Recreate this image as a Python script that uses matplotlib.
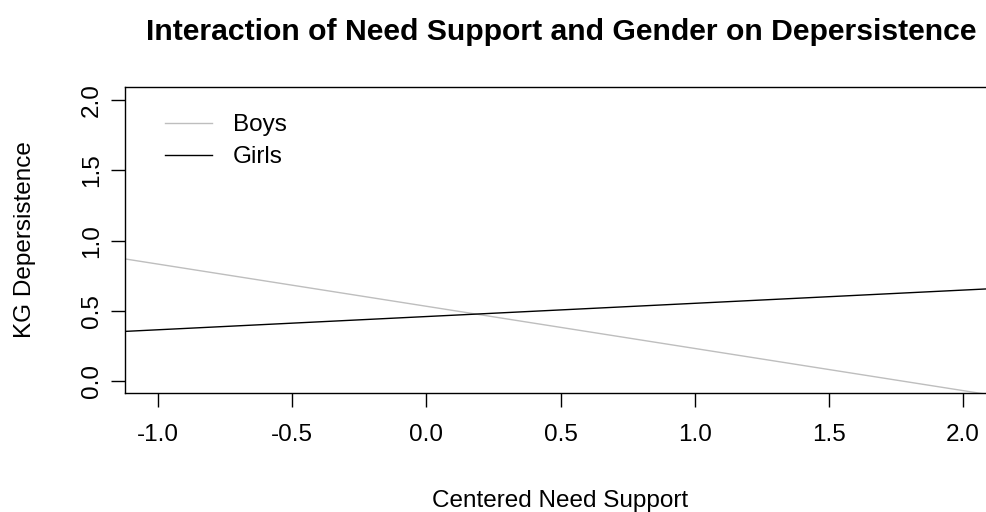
import matplotlib
matplotlib.use("Agg")
import matplotlib.pyplot as plt

# values (line ends just past the plot edges)
support = [-1.2, 2.2]
boys = [0.894, -0.126]
girls = [0.348, 0.668]
series_names = ["Boys", "Girls"]
series_colors = ["#BEBEBE", "#000000"]

x_ticks = [-1.0, -0.5, 0.0, 0.5, 1.0, 1.5, 2.0]
y_ticks = [0.0, 0.5, 1.0, 1.5, 2.0]

plt.rcParams["font.family"] = ["Liberation Sans", "DejaVu Sans"]

W, H = 987, 512
fig = plt.figure(figsize=(W / 100, H / 100), dpi=100)
# axes box in pixels: left 125, right ~995 (past the edge), top 87, bottom 393
ax = fig.add_axes([125 / W, (H - 393) / H, (995 - 125) / W, (393 - 87) / H])

for vals, name, col in zip([boys, girls], series_names, series_colors):
    ax.plot(support, vals, color=col, lw=1.0, label=name)

ax.set_xlim(-1.123, 2.119)
ax.set_ylim(-0.083, 2.094)
ax.set_xticks(x_ticks)
ax.set_xticklabels([f"{v:.1f}" for v in x_ticks])
ax.set_yticks(y_ticks)
ax.set_yticklabels([f"{v:.1f}" for v in y_ticks], rotation=90, va="center")
ax.tick_params(direction="out", length=10, width=1.0, labelsize=17.5, colors="black")
ax.tick_params(axis="x", pad=12)
ax.tick_params(axis="y", pad=6)
for s in ax.spines.values():
    s.set_linewidth(1.0)

ax.set_xlabel("Centered Need Support", fontsize=17.5, labelpad=32)
ax.set_ylabel("KG Depersistence", fontsize=17.5, labelpad=32)
fig.text(561 / W, 1 - 32 / H, "Interaction of Need Support and Gender on Depersistence",
         ha="center", va="center", fontsize=21.7, fontweight="bold")

ax.legend(loc="upper left", bbox_to_anchor=(40 / 870, 1 - 27 / 306), frameon=False,
          fontsize=17.5, handlelength=1.95, handletextpad=0.85, labelspacing=0.42,
          borderaxespad=0.0, borderpad=0.0)

fig.savefig("out.png", dpi=100)
